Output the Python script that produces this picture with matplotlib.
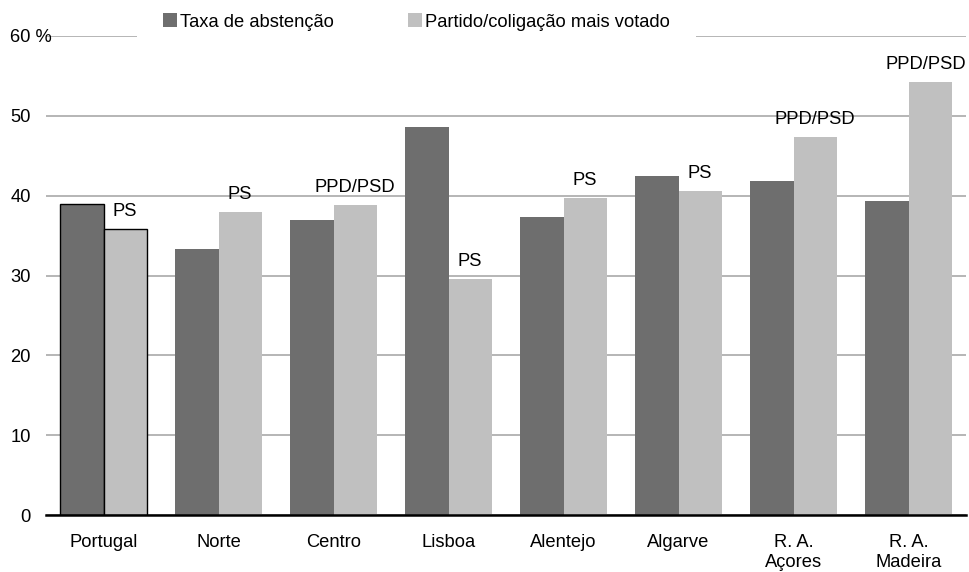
import matplotlib.pyplot as plt
import matplotlib.transforms as mtransforms
from matplotlib.patches import Patch
import numpy as np

plt.rcParams['font.family'] = ['Liberation Sans', 'DejaVu Sans']

regioes = ['Portugal', 'Norte', 'Centro', 'Lisboa', 'Alentejo', 'Algarve',
           'R. A.\nAçores', 'R. A.\nMadeira']
abstencao = [39.0, 33.3, 36.9, 48.6, 37.3, 42.5, 41.8, 39.3]
mais_votado = [35.8, 37.9, 38.8, 29.5, 39.7, 40.6, 47.4, 54.2]
partidos = ['PS', 'PS', 'PPD/PSD', 'PS', 'PS', 'PS', 'PPD/PSD', 'PPD/PSD']
yticks = [0, 10, 20, 30, 40, 50, 60]

escuro = '#6e6e6e'
claro = '#c0c0c0'
w = 0.375
fs = 13.25

fig = plt.figure(figsize=(9.69, 5.72), dpi=100)
ax = fig.add_axes([46 / 969, 1 - 515 / 572, 920 / 969, (515 - 36) / 572])

x = np.arange(len(regioes))
b1 = ax.bar(x - w / 2, abstencao, w, color=escuro, zorder=2)
b2 = ax.bar(x + w / 2, mais_votado, w, color=claro, zorder=2)

# só o total nacional leva contorno
for b in (b1[0], b2[0]):
    b.set_edgecolor('black')
    b.set_linewidth(1.0)

ax.set_xlim(-0.5, len(regioes) - 0.5)
ax.set_ylim(0, 60)

for i, (xi, v, p) in enumerate(zip(x, mais_votado, partidos)):
    if i == len(regioes) - 1:
        # o último rótulo encosta à margem direita para não sair da figura
        ax.annotate(p, (ax.get_xlim()[1], v), xytext=(0, 6.5), textcoords='offset points',
                    ha='right', va='bottom', fontsize=fs)
    else:
        ax.annotate(p, (xi + w / 2, v), xytext=(0, 6.5), textcoords='offset points',
                    ha='center', va='bottom', fontsize=fs)

ax.set_yticks(yticks)
ax.set_yticklabels([str(t) for t in yticks[:-1]] + ['60 %'])
ax.set_xticks(x)
ax.set_xticklabels(regioes, fontsize=fs, linespacing=1.2)
ax.tick_params(axis='y', length=0, pad=11, labelsize=fs)
ax.tick_params(axis='x', length=0, pad=14)

# o "%" fica à direita do alinhamento dos números
lab60 = ax.get_yticklabels()[-1]
lab60.set_transform(lab60.get_transform() +
                    mtransforms.ScaledTranslation(0.215, 0, fig.dpi_scale_trans))

ax.yaxis.grid(True, color='#b0b0b0', linewidth=1.3, zorder=0)
ax.set_axisbelow(True)
for s in ['top', 'right', 'left']:
    ax.spines[s].set_visible(False)
ax.spines['bottom'].set_linewidth(1.8)
ax.spines['bottom'].set_zorder(3)

handles = [Patch(facecolor=escuro, edgecolor='none', label='Taxa de abstenção'),
           Patch(facecolor=claro, edgecolor='none', label='Partido/coligação mais votado')]
leg = ax.legend(handles=handles, loc='center', bbox_to_anchor=(416.5 / 969, 1 - 22 / 572),
                bbox_transform=fig.transFigure, ncol=2, fontsize=fs,
                frameon=True, facecolor='white', edgecolor='none', framealpha=1,
                handlelength=0.75, handleheight=0.75, handletextpad=0.2,
                columnspacing=4.0, borderpad=1.4, borderaxespad=0)
leg.get_frame().set_boxstyle('square', pad=0)
leg.set_zorder(5)

fig.savefig('out.png', dpi=100)
